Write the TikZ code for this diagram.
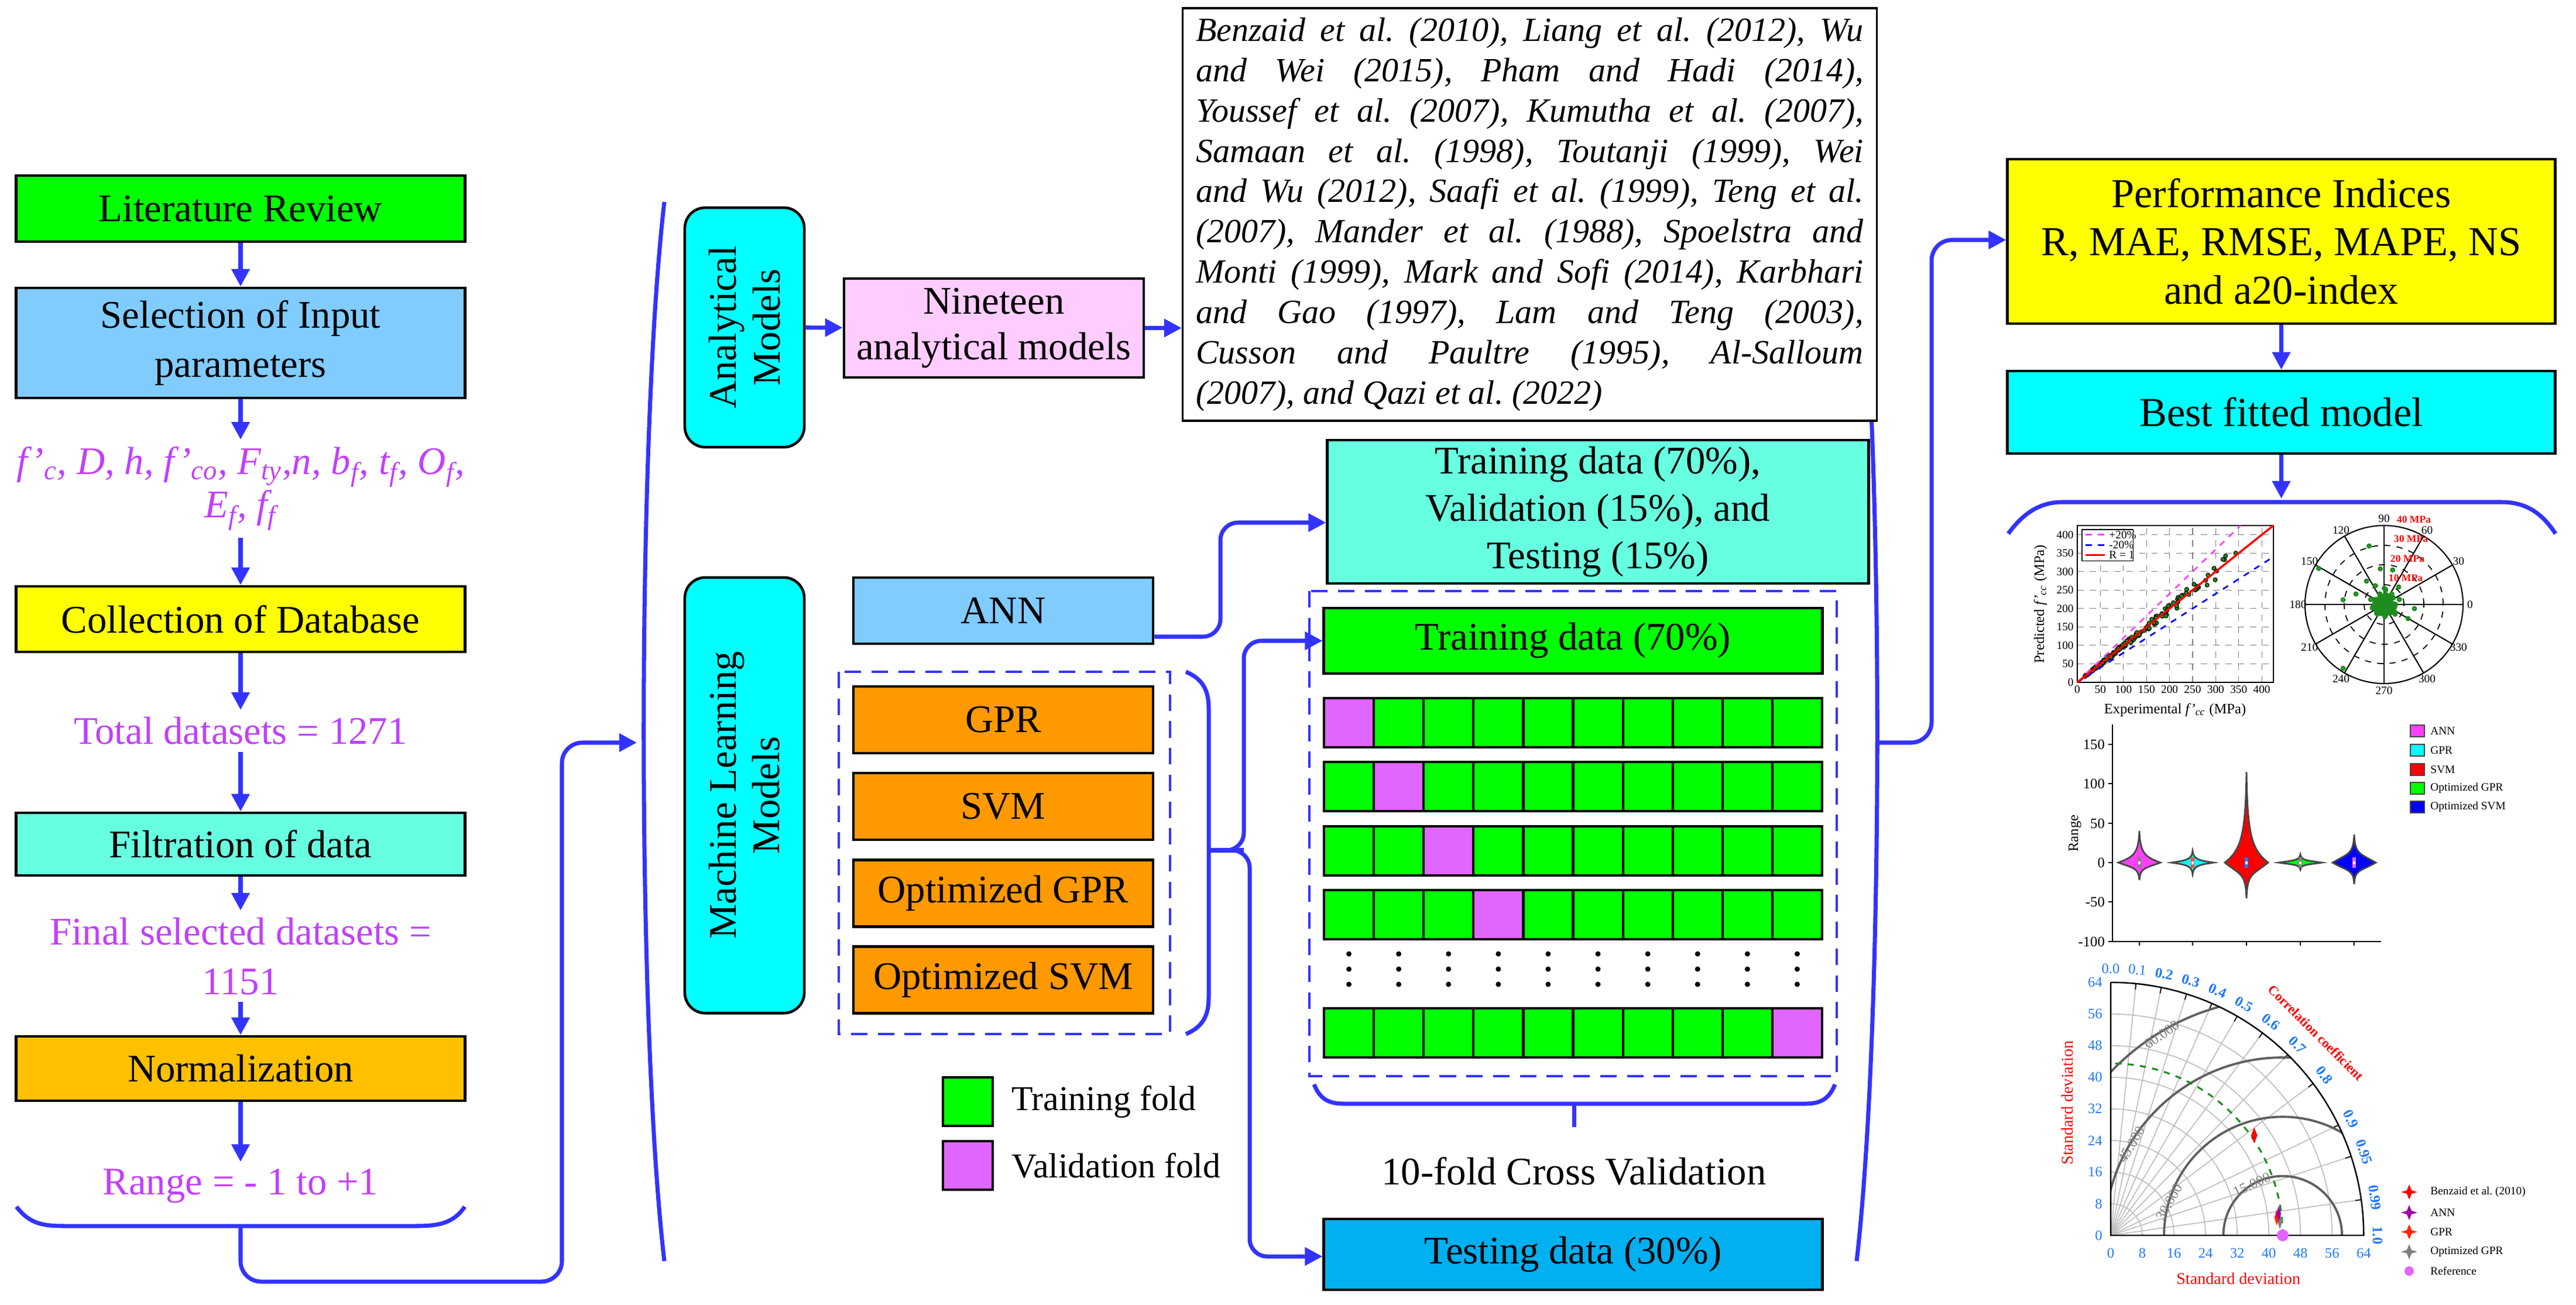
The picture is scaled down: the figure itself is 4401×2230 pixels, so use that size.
\documentclass[tikz,border=0pt]{standalone}
\usepackage{fontspec}
\setmainfont{Liberation Serif}
\usetikzlibrary{arrows.meta,shapes.geometric}
\definecolor{lblue}{RGB}{51,51,255}
\definecolor{cgreen}{RGB}{0,255,0}
\definecolor{skyb}{RGB}{128,204,255}
\definecolor{aqua}{RGB}{102,255,224}
\definecolor{yel}{RGB}{255,255,0}
\definecolor{gold}{RGB}{255,192,0}
\definecolor{orng}{RGB}{255,153,0}
\definecolor{pinkb}{RGB}{255,204,255}
\definecolor{vpink}{RGB}{224,102,255}
\definecolor{ptext}{RGB}{192,64,255}
\definecolor{tblue}{RGB}{0,176,240}
\definecolor{vgray}{RGB}{70,70,70}
\definecolor{dgreen}{RGB}{30,140,30}
\definecolor{tayb}{RGB}{30,120,255}
\definecolor{cyn}{RGB}{0,255,255}
\definecolor{mag}{RGB}{255,64,255}
\newcommand\myviolin[7]{%
\begin{scope}[shift={(#1,1474)}, yscale=-1]
\filldraw[fill=#5, draw=vgray, line width=0.8pt] (0,#3) .. controls (1.5,0.3*#3) and (0.25*#2,#7) .. (#2,0) .. controls (0.25*#2,-#7) and (1.5,-0.3*#4) .. (0,-#4) .. controls (-1.5,-0.3*#4) and (-0.25*#2,-#7) .. (-#2,0) .. controls (-0.25*#2,#7) and (-1.5,0.3*#3) .. cycle;
\fill[#6] (-3,-9) rectangle (3,9);
\fill[white] (-1.6,-2.5) rectangle (1.6,2.5);
\end{scope}}
\tikzset{
 conn/.style={lblue, line width=2pt, -{Triangle[length=0.3cm,width=0.3cm]}},
 brace/.style={lblue, line width=2pt},
 box/.style={draw, line width=1.3pt, align=center, inner sep=0pt, font=\fontsize{19}{24}\selectfont},
 rbox/.style={box, fill=cyn, rounded corners=0.35cm},
 ptxt/.style={text=ptext, align=center, font=\fontsize{19}{24}\selectfont},
 plain/.style={align=center, font=\fontsize{19}{23}\selectfont},
 tiny/.style={font=\fontsize{5.5}{6.5}\selectfont, inner sep=0.5pt},
 small/.style={font=\fontsize{7}{8}\selectfont, inner sep=1pt},
}
\begin{document}
\frenchspacing
\begin{tikzpicture}[x=0.01cm,y=-0.01cm]
\useasboundingbox (0,0) rectangle (4401,2230);
% ---------------- left column
\node[box, fill=cgreen, minimum width=7.66cm, minimum height=1.13cm] (lit) at (411,356.5) {Literature Review};
\node[box, fill=skyb, minimum width=7.66cm, minimum height=1.88cm] (sel) at (411,586) {Selection of Input\\parameters};
\node[ptxt, font=\fontsize{19}{21}\selectfont\itshape] (par) at (411,835) {f'\textsubscript{c}, D, h, f'\textsubscript{co}, F\textsubscript{ty},n, b\textsubscript{f}, t\textsubscript{f}, O\textsubscript{f},\\E\textsubscript{f}, f\textsubscript{f}};
\node[box, fill=yel, minimum width=7.66cm, minimum height=1.12cm] (coll) at (411,1058) {Collection of Database};
\node[ptxt] (tot) at (411,1249) {Total datasets = 1271};
\node[box, fill=aqua, minimum width=7.66cm, minimum height=1.07cm] (filt) at (411,1442.5) {Filtration of data};
\node[ptxt] (fin) at (411,1634) {Final selected datasets =\\1151};
\node[box, fill=gold, minimum width=7.66cm, minimum height=1.10cm] (norm) at (411,1826) {Normalization};
\node[ptxt] (rng) at (411,2027) {Range = - 1 to +1};
\draw[conn] (lit) -- (sel);
\draw[conn] (sel) -- (par);
\draw[conn] (par) -- (coll);
\draw[conn] (coll) -- (tot);
\draw[conn] (tot) -- (filt);
\draw[conn] (filt) -- (fin);
\draw[conn] (fin) -- (norm);
\draw[conn] (norm) -- (rng);
\draw[brace] (28,2062) .. controls (50,2090) and (70,2095) .. (110,2095) -- (711,2095) .. controls (750,2095) and (775,2090) .. (794,2062);
\coordinate (lb) at (411,2095);
\coordinate (lp) at (1088,1269);
\draw[conn, rounded corners=0.35cm] (lb) -- (411,2190) -- (960,2190) -- (960,1269) -- (lp);
% ---------------- parens
\draw[brace] (1135,345) .. controls (1088,750) and (1088,1750) .. (1135,2155);
\draw[brace] (3172,345) .. controls (3219,750) and (3219,1750) .. (3172,2155);
% ---------------- middle
\node[rbox, minimum width=2.04cm, minimum height=4.09cm] (an) at (1272,559.5) {};
\node[rotate=90, plain, font=\fontsize{19}{21.5}\selectfont] at (an) {Analytical\\Models};
\node[box, fill=pinkb, minimum width=5.12cm, minimum height=1.69cm, font=\fontsize{19}{22}\selectfont] (nin) at (1698,560.5) {Nineteen\\analytical models};
\node[box, fill=white, line width=1pt, minimum width=11.85cm, minimum height=7.05cm, align=left, font=\fontsize{16.5}{19.6}\selectfont\itshape] (cit) at (2613.5,366.5) {%
\makebox[11.4cm][s]{Benzaid et al. (2010), Liang et al. (2012), Wu}\\
\makebox[11.4cm][s]{and Wei (2015), Pham and Hadi (2014),}\\
\makebox[11.4cm][s]{Youssef et al. (2007), Kumutha et al. (2007),}\\
\makebox[11.4cm][s]{Samaan et al. (1998), Toutanji (1999), Wei}\\
\makebox[11.4cm][s]{and Wu (2012), Saafi et al. (1999), Teng et al.}\\
\makebox[11.4cm][s]{(2007), Mander et al. (1988), Spoelstra and}\\
\makebox[11.4cm][s]{Monti (1999), Mark and Sofi (2014), Karbhari}\\
\makebox[11.4cm][s]{and Gao (1997), Lam and Teng (2003),}\\
\makebox[11.4cm][s]{Cusson and Paultre (1995), Al-Salloum}\\
\makebox[11.4cm][l]{(2007), and Qazi et al. (2022)}};
\draw[conn] (an) -- (nin);
\draw[conn] (nin) -- (nin -| cit.west);
\node[rbox, minimum width=2.04cm, minimum height=7.44cm] (ml) at (1272,1359) {};
\node[rotate=90, plain, font=\fontsize{19}{21}\selectfont] at (ml) {Machine Learning\\Models};
\node[box, fill=skyb, minimum width=5.12cm, minimum height=1.13cm] (ann) at (1714,1043.5) {ANN};
\node[box, fill=orng, minimum width=5.12cm, minimum height=1.14cm] (gpr) at (1714,1230) {GPR};
\node[box, fill=orng, minimum width=5.12cm, minimum height=1.14cm] (svm) at (1714,1378) {SVM};
\node[box, fill=orng, minimum width=5.12cm, minimum height=1.14cm] (ogpr) at (1714,1526.5) {Optimized GPR};
\node[box, fill=orng, minimum width=5.12cm, minimum height=1.14cm] (osvm) at (1714,1674.5) {Optimized SVM};
\draw[lblue, line width=1.3pt, dash pattern=on 8pt off 5pt] (1433,1148) rectangle (1999,1767);
\draw[brace] (2026,1148) .. controls (2055,1160) and (2065,1180) .. (2065,1210) -- (2065,1705) .. controls (2065,1735) and (2055,1755) .. (2026,1767);
% legend
\node[draw, line width=1.2pt, fill=cgreen, minimum width=0.85cm, minimum height=0.83cm, inner sep=0] (lg1) at (1653.5,1882.5) {};
\node[draw, line width=1.2pt, fill=vpink, minimum width=0.85cm, minimum height=0.83cm, inner sep=0] (lg2) at (1653.5,1991.5) {};
\node[anchor=west, font=\fontsize{17}{20}\selectfont] at (1716,1882.5) {Training fold};
\node[anchor=west, font=\fontsize{17}{20}\selectfont] at (1716,1991.5) {Validation fold};
% ---------------- data split
\node[box, fill=aqua, minimum width=9.24cm, minimum height=2.45cm, font=\fontsize{19}{23}\selectfont] (tvt) at (2730,874.5) {Training data (70\%),\\Validation (15\%), and\\Testing (15\%)};
\draw[lblue, line width=1.3pt, dash pattern=on 8pt off 5pt] (2237,1010) rectangle (3138,1839);
\node[box, fill=cgreen, minimum width=8.51cm, minimum height=1.12cm] (tr) at (2687.5,1095) {Training data (70\%)};
\foreach \yt/\p in {1193/1,1302/2,1412/3,1521/4,1723/10}{
  \foreach \c in {1,...,10}{
    \ifnum\c=\p\relax\def\cc{vpink}\else\def\cc{cgreen}\fi
    \filldraw[fill=\cc, draw=black, line width=1.2pt] ({2262+(\c-1)*85.1},\yt) rectangle ({2262+\c*85.1},\yt+84);
  }
}
\foreach \c in {1,...,10}{
  \foreach \yy in {1630,1656,1682} \fill ({2262+(\c-0.5)*85.1},\yy) circle (4.5);
}
\draw[brace] (2245,1853) .. controls (2255,1878) and (2270,1886) .. (2295,1886) -- (3085,1886) .. controls (3110,1886) and (3125,1878) .. (3135,1853);
\draw[brace] (2689,1886) -- (2689,1926);
\node[plain] (cv) at (2689,2001) {10-fold Cross Validation};
\node[box, fill=tblue, minimum width=8.51cm, minimum height=1.21cm] (te) at (2687.5,2143.5) {Testing data (30\%)};
\coordinate (bm) at (2065,1453);
\draw[brace] (bm) -- (2125,1453);
\draw[conn, rounded corners=0.3cm] (bm) -- (2125,1453) -- (2125,1095) -- (tr.west);
\draw[conn, rounded corners=0.3cm] (bm) -- (2135,1453) -- (2135,2147) -- (te.west |- 2147,2147);
\draw[conn, rounded corners=0.3cm] (ann.east |- 1970,1088) -- (2085,1088) -- (2085,893) -- (tvt.west |- 2268,893);
% ---------------- right
\node[box, fill=yel, minimum width=9.35cm, minimum height=2.81cm, font=\fontsize{20}{23.5}\selectfont] (perf) at (3897.5,412.5) {Performance Indices\\R, MAE, RMSE, MAPE, NS\\and a20-index};
\node[box, fill=cyn, minimum width=9.35cm, minimum height=1.41cm, font=\fontsize{20}{24}\selectfont] (best) at (3897.5,704.5) {Best fitted model};
\coordinate (rp) at (3207,1269);
\draw[conn, rounded corners=0.35cm] (rp) -- (3300,1269) -- (3300,410) -- (perf.west |- 3430,410);
\draw[conn] (perf) -- (best);
\coordinate (rb) at (3897.5,852);
\draw[conn] (best) -- (rb);
\draw[brace] (3431,912) .. controls (3460,872) and (3490,858) .. (3524,858) -- (4274,858) .. controls (4310,858) and (4340,872) .. (4366,912);
% ---- scatter
\begin{scope}[shift={(3549,1166)}, x=0.007875cm, y=0.0063cm]
\foreach \v in {50,100,...,400}{
  \draw[gray, dashed, line width=0.3pt] (\v,0) -- (\v,425);
  \draw[gray, dashed, line width=0.3pt] (0,\v) -- (425,\v);
}
\foreach \v in {0,50,...,400}{
  \node[tiny] at (\v,-20) {\v};
  \node[tiny, anchor=east] at (-5,\v) {\v};
}
\draw[line width=0.6pt] (0,0) rectangle (425,425);
\pgfmathsetseed{11}
\foreach \i in {1,...,170}{
  \pgfmathsetmacro\vx{12+370*rnd*rnd+40*rnd}
  \pgfmathsetmacro\vy{\vx*(1+0.07*rand)}
  \filldraw[fill=dgreen, draw=black, line width=0.3pt] (\vx,\vy) circle (0.035cm);
}
\draw[mag, dashed, line width=0.8pt] (0,0) -- (354,425);
\draw[blue, dashed, line width=0.8pt] (0,0) -- (425,340);
\draw[red, line width=1pt] (0,0) -- (425,425);
\filldraw[fill=white, draw=black, line width=0.4pt] (10,329) rectangle (121,414);
\draw[mag, dashed, line width=0.8pt] (18,400) -- (60,400); \node[tiny, anchor=west] at (66,400) {+20\%};
\draw[blue, dashed, line width=0.8pt] (18,372) -- (60,372); \node[tiny, anchor=west] at (66,372) {-20\%};
\draw[red, line width=0.8pt] (18,345) -- (60,345); \node[tiny, anchor=west] at (66,345) {R = 1};
\node[small, rotate=90] at (-80,212) {Predicted \textit{f'\textsubscript{cc}} (MPa)};
\node[small] at (212,-75) {Experimental \textit{f'\textsubscript{cc}} (MPa)};
\end{scope}
% ---- polar
\begin{scope}[shift={(4073,1033)}, x=0.01cm, y=0.01cm]
\draw[line width=0.6pt] (0,0) circle (135);
\draw[dashed, line width=0.5pt] (0,0) circle (101);
\draw[dashed, line width=0.5pt] (0,0) circle (68);
\draw[dashed, line width=0.5pt] (0,0) circle (34);
\foreach \a in {0,30,...,330}{
  \draw[line width=0.6pt] (0,0) -- (\a:135);
  \node[tiny] at (\a:147) {\a};
}
\pgfmathsetseed{5}
\foreach \i in {1,...,220}{
  \pgfmathsetmacro\aa{360*rnd}
  \pgfmathsetmacro\rr{30*rnd*rnd*rnd+14*rnd}
  \draw[dgreen, line width=1pt] (\aa:\rr) circle (2.6);
}
\foreach \p in {(-25.5,100),(-111.6,61.7),(-70,-109),(-6.4,61),(14.7,59),(-70,8),(-48,18),(41,-24),(52,-7),(-30,40),(25,30)}
  \draw[dgreen, line width=1pt] \p circle (2.6);
\node[text=red, font=\fontsize{5}{6}\selectfont\bfseries, inner sep=0] at (51,145) {40 MPa};
\node[text=red, font=\fontsize{5}{6}\selectfont\bfseries, inner sep=0] at (46,112) {30 MPa};
\node[text=red, font=\fontsize{5}{6}\selectfont\bfseries, inner sep=0] at (40,78) {20 MPa};
\node[text=red, font=\fontsize{5}{6}\selectfont\bfseries, inner sep=0] at (37,45) {10 MPa};
\end{scope}
% ---- violin
\draw[line width=0.7pt] (3609,1238) -- (3609,1609) -- (4068,1609);
\foreach \v/\yy in {150/1272,100/1339,50/1407,0/1474,-50/1541,-100/1609}{
  \draw[line width=0.6pt] (3602,\yy) -- (3609,\yy);
  \node[small, anchor=east] at (3600,\yy) {\v};
}
\foreach \xx in {3655,3746,3838,3930,4022} \draw[line width=0.6pt] (\xx,1609) -- (\xx,1616);
\node[small, rotate=90] at (3545,1424) {Range};
\myviolin{3655}{36}{54}{30}{mag}{gray}{10}
\myviolin{3746}{36}{20}{20}{cyn}{red!70}{4}
\myviolin{3838}{37}{155}{61}{red}{tayb}{22}
\myviolin{3930}{37}{14}{12}{cgreen}{gray}{4}
\myviolin{4022}{37}{48}{37}{blue}{vpink}{16}
\foreach \yy/\cl/\tx in {1249/mag/ANN,1282/cyn/GPR,1315/red/SVM,1347/cgreen/Optimized GPR,1379/blue/Optimized SVM}{
  \filldraw[fill=\cl, draw=vgray, line width=0.4pt] (4118,\yy-10) rectangle (4142,\yy+10);
  \node[tiny, anchor=west] at (4150,\yy) {\tx};
}
% ---- taylor
\begin{scope}[shift={(3606,2111)}, x=0.0675cm, y=0.0675cm]
\foreach \r in {8,16,...,56} \draw[gray!50, line width=0.5pt] (\r,0) arc (0:90:\r);
\foreach \c in {0.1,0.2,0.3,0.4,0.5,0.6,0.7,0.8,0.9,0.95,0.99}{
  \pgfmathsetmacro\ang{acos(\c)}
  \draw[gray!50, line width=0.5pt] (0,0) -- (\ang:64);
  \draw[line width=0.5pt] (\ang:64) -- (\ang:62.5);
}
\begin{scope}
\clip (0,0) -- (64,0) arc (0:90:64) -- cycle;
\foreach \r in {15,30,45,60} \draw[gray!75!black, line width=1.1pt] (43.5,0) circle (\r);
\end{scope}
\draw[line width=0.7pt] (0,64) -- (0,0) -- (64,0) arc (0:90:64);
\draw[dgreen, dashed, line width=0.9pt] (43.5,0) arc (0:90:43.5);
\foreach \v in {0,8,...,64}{
  \node[small, text=tayb] at (\v,-4.5) {\v};
  \node[small, text=tayb, anchor=east] at (-1.5,\v) {\v};
}
\foreach \c in {0.0,0.1}{
  \pgfmathsetmacro\ang{acos(\c)}
  \node[small, text=tayb, rotate=\ang-90] at (\ang:67.5) {\c};
}
\foreach \c in {0.2,0.3,0.4,0.5,0.6,0.7,0.8,0.9,0.95,0.99,1.0}{
  \pgfmathsetmacro\ang{acos(\c)}
  \node[small, text=tayb, font=\fontsize{7}{8}\selectfont\bfseries, rotate=\ang-90] at (\ang:67.5) {\c};
}
\node[font=\fontsize{6.5}{7.5}\selectfont\bfseries, text=red, rotate=-45, inner sep=0] at (44.6:73) {Correlation coefficient};
\node[font=\fontsize{8}{9}\selectfont, text=red, rotate=90] at (-11,33.5) {Standard deviation};
\node[font=\fontsize{8}{9}\selectfont, text=red] at (32.3,-11) {Standard deviation};
\node[small, text=gray, rotate=25] at (35.7,12.9) {15.000};
\node[small, text=gray, rotate=60] at (14.8,8.4) {30.000};
\node[small, text=gray, rotate=60] at (5.3,23) {45.000};
\node[small, text=gray, rotate=35] at (12.9,50.8) {60.000};
\fill[red] (36.3,27.3) -- (37.1,25.3) -- (36.3,23.3) -- (35.5,25.3) -- cycle;
\fill[gray] (42.8,5.5) -- (43.4,3.5) -- (42.8,1.5) -- (42.2,3.5) -- cycle;
\fill[red!70!orange] (42,6.5) -- (42.6,4.5) -- (42,2.5) -- (41.4,4.5) -- cycle;
\fill[violet!70!magenta] (42.5,7.5) -- (43.1,5.5) -- (42.5,3.5) -- (41.9,5.5) -- cycle;
\fill[vpink] (43.5,0) circle (1.5);
\end{scope}
\foreach \yy/\cl/\tx in {2037/red/Benzaid et al. (2010),2072/violet!70!magenta/ANN,2105/red!70!orange/GPR,2139/gray/Optimized GPR}{
  \fill[\cl] (4116,\yy-13) -- (4120,\yy-3) -- (4130,\yy) -- (4120,\yy+3) -- (4116,\yy+13) -- (4112,\yy+3) -- (4102,\yy) -- (4112,\yy-3) -- cycle;
  \node[tiny, anchor=west] at (4150,\yy) {\tx};
}
\fill[vpink] (4116,2172) circle (8);
\node[tiny, anchor=west] at (4150,2172) {Reference};
\end{tikzpicture}
\end{document}
